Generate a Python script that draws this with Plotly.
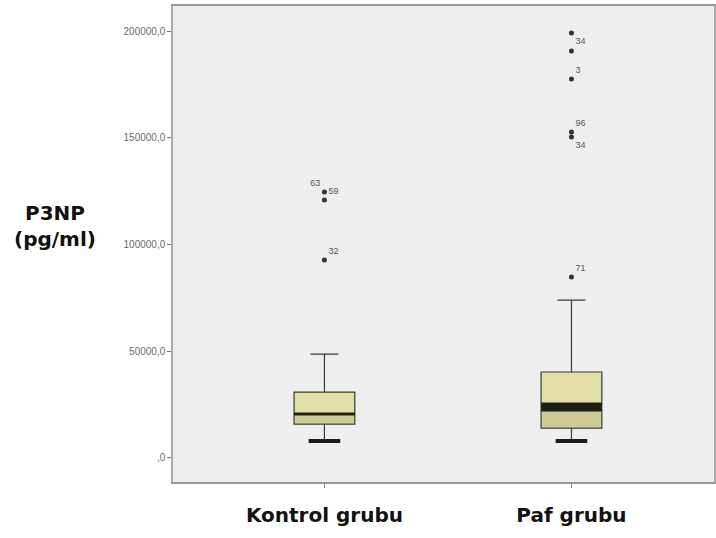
import plotly.graph_objects as go

groups = ["Kontrol grubu", "Paf grubu"]
q1 = [15900, 14000]
median = [20600, 23900]
q3 = [30900, 40300]
lowerfence = [8000, 8000]
upperfence = [48700, 74000]

out_group = [0, 0, 0, 1, 1, 1, 1, 1, 1]
out_value = [124600, 120900, 92800, 84800, 199200, 190700, 177600, 152800, 150400]
out_label = ["63", "59", "32", "71", "34", "", "3", "96", "34"]
out_pos = ["top left", "top right", "top right", "top right", "bottom right",
           "top right", "top right", "top right", "bottom right"]

tick_vals = [0, 50000, 100000, 150000, 200000]
tick_text = [",0", "50000,0", "100000,0", "150000,0", "200000,0"]

median_width = [3, 9]

BOX_W = 0.246
CAP_W = 0.118

fig = go.Figure()
for i, g in enumerate(groups):
    fig.add_trace(go.Box(
        x=[i], q1=[q1[i]], median=[median[i]], q3=[q3[i]],
        lowerfence=[lowerfence[i]], upperfence=[upperfence[i]],
        width=BOX_W, whiskerwidth=0.46,
        fillcolor="#e2dfa6", line=dict(color="#3a3a30", width=1.2),
        boxpoints=False, showlegend=False, hoverinfo="skip"))
    # lower shaded portion (q1 to median)
    fig.add_trace(go.Scatter(
        x=[i - BOX_W / 2 + 0.004, i + BOX_W / 2 - 0.004, i + BOX_W / 2 - 0.004, i - BOX_W / 2 + 0.004],
        y=[q1[i], q1[i], median[i], median[i]], fill="toself",
        fillcolor="rgba(150,150,110,0.28)", line=dict(width=0),
        mode="lines", showlegend=False, hoverinfo="skip"))
    # thick median
    fig.add_trace(go.Scatter(
        x=[i - BOX_W / 2, i + BOX_W / 2], y=[median[i], median[i]],
        mode="lines", line=dict(color="#1e1e14", width=median_width[i]),
        showlegend=False, hoverinfo="skip"))
    # thick lower cap
    fig.add_trace(go.Scatter(
        x=[i - CAP_W / 2 - 0.005, i + CAP_W / 2 + 0.005], y=[lowerfence[i], lowerfence[i]],
        mode="lines", line=dict(color="#1a1a1a", width=4),
        showlegend=False, hoverinfo="skip"))

fig.add_trace(go.Scatter(
    x=out_group, y=out_value, mode="markers+text",
    text=out_label, textposition=out_pos,
    textfont=dict(family="Liberation Sans", size=9, color="#555555"),
    marker=dict(size=5, color="#333333"),
    showlegend=False, hoverinfo="skip"))

fig.update_layout(
    width=716, height=538,
    margin=dict(l=173, r=0, t=6, b=56),
    paper_bgcolor="white", plot_bgcolor="#eeeeee",
    font=dict(family="Liberation Sans"),
)
fig.update_xaxes(
    range=[-0.613, 1.577], tickvals=[0, 1], ticktext=groups,
    tickfont=dict(family="DejaVu Sans", size=20, color="#111111", weight="bold"),
    ticks="outside", ticklen=4, tickcolor="#888888",
    showline=True, linecolor="#999999", linewidth=2, mirror=True,
    showgrid=False, zeroline=False, ticklabelstandoff=10)
fig.update_yaxes(
    range=[-11250, 211800], tickvals=tick_vals, ticktext=tick_text,
    tickfont=dict(family="Liberation Sans", size=10, color="#6a6a6a"),
    ticks="outside", ticklen=4, tickcolor="#777777",
    showline=True, linecolor="#aaaaaa", linewidth=1.5, mirror=True,
    showgrid=False, zeroline=False)

fig.add_annotation(
    x=(55 - 173) / 543, y=(482 - 226) / 476, xref="paper", yref="paper",
    xanchor="center", yanchor="middle",
    text="<b>P3NP<br>(pg/ml)</b>", showarrow=False,
    font=dict(family="DejaVu Sans", size=20, color="#111111"), align="center")

fig.write_html("out.html")
